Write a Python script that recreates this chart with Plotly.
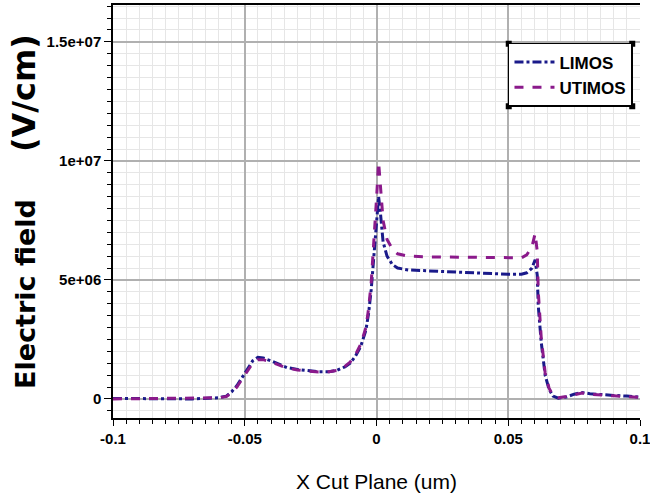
import plotly.graph_objects as go

# ---- data (x in um, field in V/cm) ----
limos_x = [-0.1, -0.09, -0.08, -0.07, -0.065, -0.06, -0.057, -0.055, -0.053, -0.051, -0.049,
           -0.047, -0.045, -0.043, -0.040, -0.037, -0.034, -0.030, -0.026, -0.022, -0.018,
           -0.015, -0.012, -0.010, -0.008, -0.006, -0.004, -0.003, -0.002, -0.001, 0.0,
           0.0008, 0.0015, 0.0025, 0.004, 0.006, 0.008, 0.012, 0.02, 0.03, 0.04, 0.05,
           0.055, 0.057, 0.059, 0.0602, 0.061, 0.0614, 0.0625, 0.064, 0.0655, 0.067, 0.069,
           0.072, 0.075, 0.078, 0.081, 0.085, 0.09, 0.095, 0.1]
limos_y = [0.02e6, 0.0, 0.01e6, 0.0, 0.02e6, 0.05e6, 0.12e6, 0.3e6, 0.55e6, 0.9e6, 1.3e6,
           1.6e6, 1.75e6, 1.72e6, 1.6e6, 1.45e6, 1.32e6, 1.24e6, 1.18e6, 1.14e6, 1.14e6,
           1.2e6, 1.35e6, 1.5e6, 1.8e6, 2.2e6, 2.9e6, 3.6e6, 4.6e6, 6.0e6, 7.6e6,
           8.5e6, 7.8e6, 6.6e6, 6.0e6, 5.65e6, 5.5e6, 5.42e6, 5.38e6, 5.33e6, 5.28e6, 5.24e6,
           5.24e6, 5.3e6, 5.5e6, 5.85e6, 5.2e6, 3.9e6, 2.4e6, 1.0e6, 0.4e6, 0.12e6, 0.03e6,
           0.08e6, 0.2e6, 0.27e6, 0.22e6, 0.18e6, 0.15e6, 0.12e6, 0.08e6]

utimos_x = [-0.1, -0.09, -0.08, -0.07, -0.065, -0.06, -0.057, -0.055, -0.053, -0.051, -0.049,
            -0.047, -0.045, -0.043, -0.040, -0.037, -0.034, -0.030, -0.026, -0.022, -0.018,
            -0.015, -0.012, -0.010, -0.008, -0.006, -0.004, -0.003, -0.002, -0.001, 0.0,
            0.0008, 0.0015, 0.0025, 0.004, 0.006, 0.008, 0.012, 0.02, 0.03, 0.04, 0.05,
            0.055, 0.057, 0.059, 0.0602, 0.061, 0.0614, 0.0625, 0.064, 0.0655, 0.067, 0.069,
            0.072, 0.075, 0.078, 0.081, 0.085, 0.09, 0.095, 0.1]
utimos_y = [0.0, 0.01e6, 0.0, 0.01e6, 0.02e6, 0.05e6, 0.1e6, 0.25e6, 0.5e6, 0.85e6, 1.2e6,
            1.5e6, 1.65e6, 1.65e6, 1.55e6, 1.42e6, 1.3e6, 1.22e6, 1.16e6, 1.13e6, 1.14e6,
            1.2e6, 1.37e6, 1.55e6, 1.85e6, 2.3e6, 3.0e6, 3.8e6, 4.9e6, 6.5e6, 8.4e6,
            9.95e6, 9.0e6, 7.5e6, 6.7e6, 6.3e6, 6.1e6, 6.0e6, 5.97e6, 5.95e6, 5.93e6, 5.92e6,
            5.93e6, 6.05e6, 6.4e6, 6.95e6, 6.2e6, 4.5e6, 2.6e6, 1.1e6, 0.45e6, 0.14e6, 0.05e6,
            0.1e6, 0.18e6, 0.25e6, 0.2e6, 0.16e6, 0.13e6, 0.1e6, 0.07e6]

y_tickvals = [0, 5e6, 1e7, 1.5e7]
y_ticktext = ["0", "5e+06", "1e+07", "1.5e+07"]
x_tickvals = [-0.1, -0.05, 0, 0.05, 0.1]
x_ticktext = ["-0.1", "-0.05", "0", "0.05", "0.1"]

NAVY = "#1a1a8a"
PURPLE = "#8b1a8b"
SANS = "Liberation Sans, Arial, sans-serif"

LEG_X0, LEG_Y0 = 0.7495, 0.908

fig = go.Figure()
fig.add_trace(go.Scatter(x=limos_x, y=limos_y, mode="lines", name="LIMOS",
                         line=dict(color=NAVY, width=3, dash="dashdot")))
fig.add_trace(go.Scatter(x=utimos_x, y=utimos_y, mode="lines", name="UTIMOS",
                         line=dict(color=PURPLE, width=3, dash="dash")))

fig.update_layout(
    width=650, height=500,
    margin=dict(l=113, r=10, t=5, b=82, autoexpand=False),
    paper_bgcolor="white", plot_bgcolor="white",
    showlegend=True,
    legend=dict(x=LEG_X0, y=LEG_Y0, xanchor="left", yanchor="top",
                bgcolor="white", bordercolor="black", borderwidth=1.5,
                font=dict(family=SANS, size=17, color="black", weight="bold"),
                tracegroupgap=0, itemwidth=40),
    xaxis=dict(
        range=[-0.1, 0.1], tickmode="array", tickvals=x_tickvals, ticktext=x_ticktext,
        automargin=False, ticklabeloverflow="allow",
        showgrid=True, gridcolor="#b0b0b0", gridwidth=1.5,
        zeroline=False, showline=True, linecolor="black", linewidth=1.5, mirror=True,
        ticks="outside", ticklen=6, tickcolor="black", tickwidth=1.2,
        tickfont=dict(family=SANS, size=15, color="black", weight="bold"),
        minor=dict(tickmode="linear", tick0=0, dtick=0.005, showgrid=True,
                   gridcolor="#e6e6e6", gridwidth=1, ticks="outside", ticklen=4,
                   tickcolor="black"),
        title=dict(text="X Cut Plane (um)", standoff=29,
                   font=dict(family=SANS, size=21, color="black")),
    ),
    yaxis=dict(
        range=[-0.8e6, 16.55e6], tickmode="array", tickvals=y_tickvals, ticktext=y_ticktext,
        automargin=False, ticklabeloverflow="allow",
        showgrid=True, gridcolor="#b0b0b0", gridwidth=1.5,
        zeroline=False, showline=True, linecolor="black", linewidth=1.5,
        ticks="outside", ticklen=7, tickcolor="black", tickwidth=1.2,
        tickfont=dict(family=SANS, size=15, color="black", weight="bold"),
        minor=dict(tickmode="linear", tick0=0, dtick=5e5, showgrid=True,
                   gridcolor="#e6e6e6", gridwidth=1, ticks="outside", ticklen=4,
                   tickcolor="black"),
        title=dict(text="Electric field&nbsp;&nbsp;&nbsp;&nbsp;&nbsp;<span style='font-size:32px'>(V/cm)</span>",
                   standoff=3,
                   font=dict(family="DejaVu Sans", size=27, color="black", weight="bold")),
    ),
)

# corner handles of the legend box (placed after the legend is measured)
post = """
document.body.style.margin = '0';
var gd = document.getElementsByClassName('plotly-graph-div')[0];
var bg = gd.querySelector('.legend .bg');
if (bg) {
  var r = bg.getBoundingClientRect(), p = gd.getBoundingClientRect();
  var fl = gd._fullLayout, sz = fl._size;
  var xs = [r.left - p.left, r.right - p.left], ys = [r.top - p.top, r.bottom - p.top];
  var shapes = [];
  xs.forEach(function(px){ ys.forEach(function(py){
    var xp = (px - sz.l) / sz.w, yp = 1 - (py - sz.t) / sz.h;
    shapes.push({type:'rect', xref:'paper', yref:'paper', xsizemode:'pixel', ysizemode:'pixel',
                 xanchor:xp, yanchor:yp, x0:-3, x1:3, y0:-3, y1:3,
                 fillcolor:'black', line:{width:0}});
  });});
  Plotly.relayout(gd, {shapes: shapes});
}
"""

fig.write_html("out.html", post_script=post, config={"displayModeBar": False})
